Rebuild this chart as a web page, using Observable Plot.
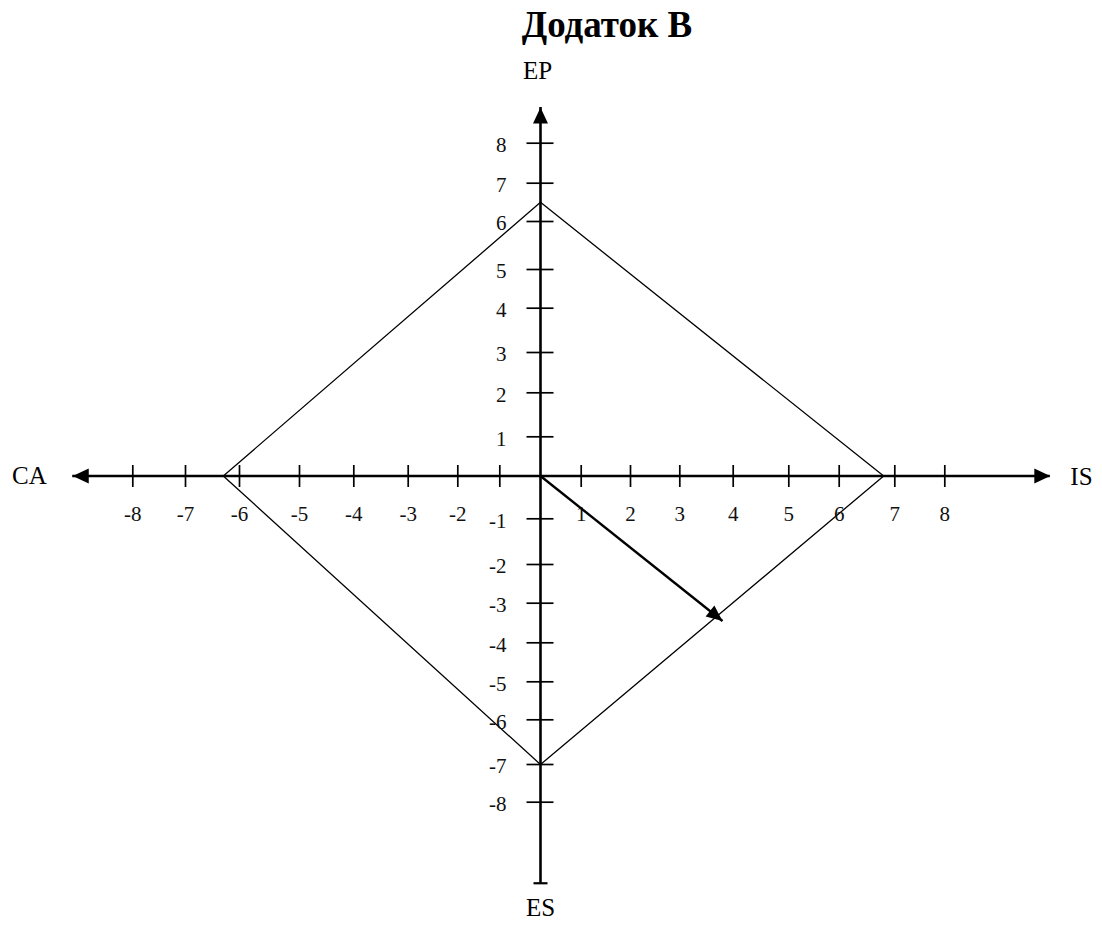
<!DOCTYPE html>
<html>
<head>
<meta charset="utf-8">
<script src="https://cdn.jsdelivr.net/npm/d3@7"></script>
<script src="https://cdn.jsdelivr.net/npm/@observablehq/plot@0.6"></script>
<style>
  body { margin: 0; background: #fff; }
  #title {
    position: relative; top: 3px;
    width: 1102px; height: 50px; line-height: 50px;
    text-align: center; padding-left: 112px; box-sizing: border-box;
    font: bold 37px "Liberation Serif", "Times New Roman", serif; color: #000;
  }
  #chart { margin-top: 0; }
</style>
</head>
<body>
<div id="title">Додаток В</div>
<div id="chart"></div>
<script>
// ---- data ----
const tickValues = [-8, -7, -6, -5, -4, -3, -2, -1, 1, 2, 3, 4, 5, 6, 7, 8];
const tickLabels = ["-8", "-7", "-6", "-5", "-4", "-3", "-2", "-1", "1", "2", "3", "4", "5", "6", "7", "8"];
const axisNames = ["CA", "IS", "EP", "ES"];
// SPACE factor values
const CA = -6.3, IS = 6.8, EP = 6.5, ES = -7.0;
// resulting vector end
const vectorX = 3.8, vectorY = -3.45;
// axis extents (arrow tips / axis end)
const xAxisExtent = [-9.14, 10.11];
const yAxisExtent = [-10.15, 8.89];

// ---- hand-drawn (irregular) axis scale: domain ticks -> pixel positions ----
const scaleDomain = [-8, -7, -6, -5, -4, -3, -2, -1, 0, 1, 2, 3, 4, 5, 6, 7, 8];
const TITLE_H = 50;
const xRange = [132.3, 185, 239, 299, 353.3, 407.7, 457.3, 499.3, 540, 580.7, 630, 679.3, 732.7, 788.3, 838.7, 894.3, 944.3];
const yRange = [801.7, 764, 719.3, 681.3, 642.3, 602.7, 564, 518.3, 475.5, 436.3, 392.3, 352, 307.7, 269, 221, 182.7, 142.7].map(v => v - TITLE_H);

const diamond = [
  {x: CA, y: 0}, {x: 0, y: EP}, {x: IS, y: 0}, {x: 0, y: ES}, {x: CA, y: 0}
];

// the x and y "-1" labels coincide in the original: it is shown once
const xLabelTicks = tickValues.filter(v => v !== -1);

// ---- symbols ----
const vTick = {draw(c) { c.moveTo(0, -11); c.lineTo(0, 11); }};
const hTick = {draw(c) { c.moveTo(-14, 0); c.lineTo(13, 0); }};
const endCap = {draw(c) { c.moveTo(-7, 0); c.lineTo(7, 0); }};
const head = {draw(c) { c.moveTo(0, 0); c.lineTo(7.5, 16); c.lineTo(-7.5, 16); c.closePath(); }};
const smallHead = {draw(c) { c.moveTo(0, 0); c.lineTo(7, 16); c.lineTo(-7, 16); c.closePath(); }};

const sx = d3.scaleLinear().domain(scaleDomain).range(xRange);
const sy = d3.scaleLinear().domain(scaleDomain).range(yRange);
const vecAngle = Math.atan2(sx(vectorX) - sx(0), -(sy(vectorY) - sy(0))) * 180 / Math.PI;

const serif = "'Liberation Serif', 'Times New Roman', serif";

const chart = Plot.plot({
  width: 1102,
  height: 925 - TITLE_H,
  margin: 0,
  style: {fontFamily: serif, background: "#fff", color: "#000"},
  x: {type: "linear", domain: scaleDomain, range: xRange, axis: null},
  y: {type: "linear", domain: scaleDomain, range: yRange, axis: null},
  marks: [
    // diamond
    Plot.line(diamond, {x: "x", y: "y", stroke: "#000", strokeWidth: 1.3}),
    // axes
    Plot.ruleY([0], {x1: xAxisExtent[0], x2: xAxisExtent[1], stroke: "#000", strokeWidth: 2.6}),
    Plot.ruleX([0], {y1: yAxisExtent[0], y2: yAxisExtent[1], stroke: "#000", strokeWidth: 2.6}),
    // ticks
    Plot.dot(tickValues, {x: d => d, y: 0, symbol: vTick, stroke: "#000", fill: "none", strokeWidth: 1.7}),
    Plot.dot(tickValues, {x: 0, y: d => d, symbol: hTick, stroke: "#000", fill: "none", strokeWidth: 1.7}),
    Plot.dot([0], {x: 0, y: yAxisExtent[0], symbol: endCap, stroke: "#000", fill: "none", strokeWidth: 2.2}),
    // arrow heads on axes
    Plot.dot([0], {x: xAxisExtent[0], y: 0, symbol: head, fill: "#000", stroke: "none", rotate: -90}),
    Plot.dot([0], {x: xAxisExtent[1], y: 0, symbol: head, fill: "#000", stroke: "none", rotate: 90}),
    Plot.dot([0], {x: 0, y: yAxisExtent[1], symbol: head, fill: "#000", stroke: "none", rotate: 0}),
    // tick labels
    Plot.text(xLabelTicks, {x: d => d, y: 0, text: d => tickLabels[tickValues.indexOf(d)], dy: 38, fontSize: 21, fontFamily: serif, fill: "#111"}),
    Plot.text(tickValues, {x: 0, y: d => d, text: (d, i) => tickLabels[i], dx: -34, dy: 2, textAnchor: "end", fontSize: 21, fontFamily: serif, fill: "#111"}),
    // axis names
    Plot.text([axisNames[0]], {x: xAxisExtent[0], y: 0, text: d => d, dx: -26, textAnchor: "end", fontSize: 25, fontFamily: serif, fill: "#000"}),
    Plot.text([axisNames[1]], {x: xAxisExtent[1], y: 0, text: d => d, dx: 20, dy: 1, textAnchor: "start", fontSize: 25, fontFamily: serif, fill: "#000"}),
    Plot.text([axisNames[2]], {x: 0, y: yAxisExtent[1], text: d => d, dx: -3, dy: -37, fontSize: 25, fontFamily: serif, fill: "#000"}),
    Plot.text([axisNames[3]], {x: 0, y: yAxisExtent[0], text: d => d, dy: 25, fontSize: 25, fontFamily: serif, fill: "#000"}),
    // resulting vector
    Plot.link([0], {x1: 0, y1: 0, x2: vectorX, y2: vectorY, stroke: "#000", strokeWidth: 2.4}),
    Plot.dot([0], {x: vectorX, y: vectorY, symbol: smallHead, fill: "#000", stroke: "none", rotate: vecAngle})
  ]
});
document.getElementById("chart").appendChild(chart);
</script>
</body>
</html>
